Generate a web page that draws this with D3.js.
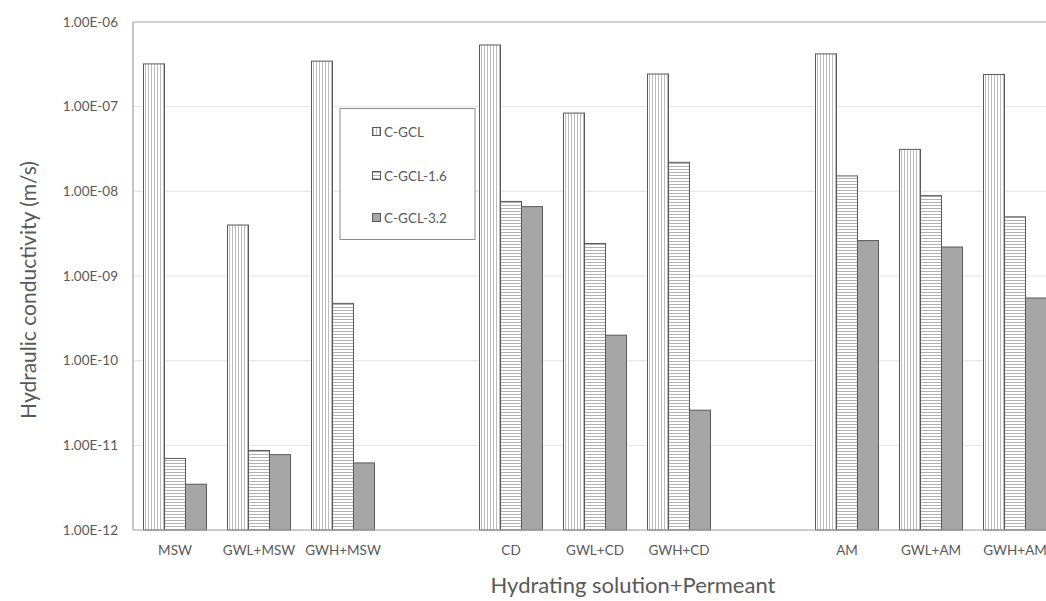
<!DOCTYPE html>
<html><head><meta charset="utf-8">
<script src="https://cdn.jsdelivr.net/npm/d3@7"></script>
<style>body{margin:0;background:#fff}svg{display:block}text{font-family:Lato,"Open Sans",sans-serif}</style>
</head><body><svg id="c" width="1046" height="601"></svg>
<script>
const categories = ["MSW","GWL+MSW","GWH+MSW","","CD","GWL+CD","GWH+CD","","AM","GWL+AM","GWH+AM"];
const seriesNames = ["C-GCL","C-GCL-1.6","C-GCL-3.2"];
const cgcl   = [3.2e-7, 4.0e-9, 3.45e-7, null, 5.35e-7, 8.4e-8, 2.43e-7, null, 4.2e-7, 3.13e-8, 2.4e-7];
const cgcl16 = [7.0e-12, 8.7e-12, 4.75e-10, null, 7.6e-9, 2.42e-9, 2.2e-8, null, 1.52e-8, 8.9e-9, 5.0e-9];
const cgcl32 = [3.47e-12, 7.76e-12, 6.2e-12, null, 6.6e-9, 2.0e-10, 2.6e-11, null, 2.62e-9, 2.2e-9, 5.5e-10];
const yTicks = [1e-12,1e-11,1e-10,1e-9,1e-8,1e-7,1e-6];
const yTickLabels = ["1.00E-12","1.00E-11","1.00E-10","1.00E-09","1.00E-08","1.00E-07","1.00E-06"];
const yTitle = "Hydraulic conductivity (m/s)";
const xTitle = "Hydrating solution+Permeant";

const series = [cgcl, cgcl16, cgcl32];
const svg = d3.select("#c");
const L = 133, T = 22, B = 530, band = 84;
const x = d3.scaleBand().domain(d3.range(categories.length)).range([L, L + band*categories.length]).padding(0);
const xi = d3.scaleBand().domain(d3.range(3)).range([10.5, 73.5]).padding(0);
const y = d3.scaleLog().domain([1e-12, 1e-6]).range([B, T]);

const defs = svg.append("defs");
const pv = defs.append("pattern").attr("id","pv").attr("patternUnits","userSpaceOnUse").attr("width",3).attr("height",3);
pv.append("rect").attr("width",3).attr("height",3).attr("fill","#fff");
pv.append("rect").attr("x",1).attr("width",1).attr("height",3).attr("fill","#bdbdbd");
const ph = defs.append("pattern").attr("id","ph").attr("patternUnits","userSpaceOnUse").attr("width",3).attr("height",3);
ph.append("rect").attr("width",3).attr("height",3).attr("fill","#fff");
ph.append("rect").attr("y",1).attr("height",1).attr("width",3).attr("fill","#b0b0b0");
const fills = ["url(#pv)","url(#ph)","#a6a6a6"];

// gridlines
svg.append("g").selectAll("line").data(yTicks).join("line")
  .attr("x1",L).attr("x2",1046).attr("y1",d=>y(d)).attr("y2",d=>y(d))
  .attr("stroke",(d,i)=> i===yTicks.length-1 ? "#a6a6a6" : "#e4e4e4").attr("stroke-width",1);

// bars
series.forEach((vals,s)=>{
  svg.append("g").selectAll("rect").data(vals.map((v,i)=>({v,i})).filter(d=>d.v!=null)).join("rect")
    .attr("x",d=>x(d.i)+xi(s)).attr("width",xi.bandwidth())
    .attr("y",d=>y(d.v)).attr("height",d=>B-y(d.v))
    .attr("fill",fills[s]).attr("stroke","#5a5a5a").attr("stroke-width",1);
});

// axes lines
svg.append("line").attr("x1",L).attr("x2",L).attr("y1",T).attr("y2",B).attr("stroke","#909090");
svg.append("line").attr("x1",L).attr("x2",1046).attr("y1",B).attr("y2",B).attr("stroke","#a6a6a6");

// y axis
const ya = svg.append("g").attr("transform",`translate(${L},0)`)
  .call(d3.axisLeft(y).tickValues(yTicks).tickFormat((d,i)=>yTickLabels[i]).tickSize(0).tickPadding(15));
ya.select(".domain").remove();
ya.selectAll("text").attr("font-size",13.5).attr("fill","#595959").style("font-family","Lato,sans-serif");

// x axis
const xa = svg.append("g").attr("transform",`translate(0,${B})`)
  .call(d3.axisBottom(x).tickFormat(i=>categories[i]).tickSize(0).tickPadding(15));
xa.select(".domain").remove();
xa.selectAll("text").attr("font-size",13.5).attr("fill","#595959").style("font-family","Lato,sans-serif");

// titles
svg.append("text").attr("transform","translate(36,290) rotate(-90)").attr("text-anchor","middle")
  .attr("font-size",21).attr("fill","#595959").text(yTitle);
svg.append("text").attr("x",633).attr("y",593).attr("text-anchor","middle")
  .attr("font-size",22).attr("fill","#595959").text(xTitle);

// legend
const lg = svg.append("g");
lg.append("rect").attr("x",340).attr("y",108.5).attr("width",135).attr("height",131).attr("fill","#fff").attr("stroke","#8c8c8c");
const ly = [132,176,218];
seriesNames.forEach((n,s)=>{
  lg.append("rect").attr("x",372.5).attr("y",ly[s]-4.5).attr("width",8).attr("height",8).attr("fill",fills[s]).attr("stroke","#5a5a5a");
  lg.append("text").attr("x",384).attr("y",ly[s]+5).attr("font-size",13.5).attr("fill","#595959").text(n);
});
</script></body></html>
